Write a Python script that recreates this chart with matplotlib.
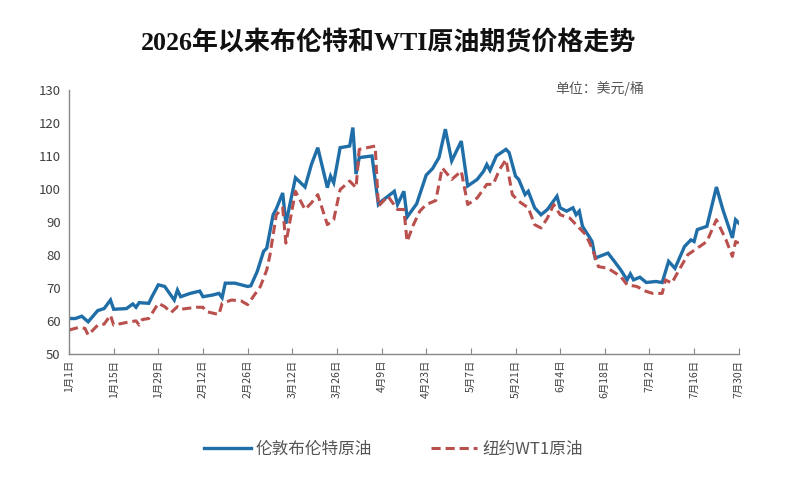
import datetime as dt
import matplotlib
matplotlib.use("Agg")
import matplotlib.pyplot as plt

plt.rcParams['font.family'] = ['Noto Sans CJK SC', 'DejaVu Sans']

# day of year 2026 and price (USD/bbl)
brent_day = [1, 3, 5, 7, 10, 12, 14, 15, 19, 21, 22, 23, 26, 27, 29, 31, 34, 35, 36, 39,
             42, 43, 46, 48, 49, 50, 53, 55, 57, 58, 60, 62, 63, 65, 66, 68, 69, 72, 75, 77,
             79, 82, 83, 84, 86, 89, 90, 91, 92, 96, 98, 99, 101, 103, 104, 106, 107, 110, 113, 115,
             117, 119, 121, 124, 126, 129, 131, 132, 133, 135, 138, 139, 141, 142, 144, 145, 147, 149, 151, 154,
             155, 157, 159, 160, 161, 162, 164, 165, 166, 170, 172, 174, 176, 177, 178, 180, 182, 185, 187, 189,
             191, 194, 196, 197, 198, 201, 204, 206, 209, 210, 211]
brent = [60.8, 60.8, 61.5, 59.8, 63.2, 63.8, 66.4, 63.6, 63.8, 65.2, 64.2, 65.6, 65.4, 67.4, 71.0, 70.5, 66.4, 69.4, 67.4, 68.4,
         69.1, 67.4, 67.9, 68.4, 67.1, 71.5, 71.5, 71.0, 70.5, 70.7, 75.0, 81.1, 82.1, 92.2, 94.0, 98.8, 89.5, 103.4, 100.6, 107.4,
         112.5, 100.4, 103.9, 101.9, 112.5, 113.0, 118.6, 104.5, 109.5, 110.0, 95.3, 96.3, 97.8, 99.3, 95.3, 99.3, 91.5, 95.5, 104.2, 106.2,
         109.5, 118.1, 108.5, 114.5, 100.9, 102.9, 105.4, 107.4, 105.6, 110.0, 112.0, 111.0, 103.9, 102.9, 98.3, 99.3, 94.3, 92.2, 93.8, 97.8,
         94.3, 93.3, 94.3, 92.2, 93.3, 88.7, 85.7, 84.1, 79.1, 80.6, 78.1, 75.5, 72.5, 74.3, 72.5, 73.3, 71.7, 72.0, 71.7, 78.1,
         76.0, 82.6, 84.6, 84.1, 87.7, 88.7, 100.6, 93.8, 85.2, 90.7, 89.7]

wti_day = [1, 4, 6, 7, 10, 12, 14, 15, 19, 22, 23, 24, 26, 29, 31, 33, 35, 36, 41, 43,
           44, 48, 49, 52, 55, 57, 61, 63, 64, 66, 68, 69, 72, 75, 77, 79, 82, 84, 86, 89,
           91, 92, 97, 98, 101, 104, 106, 107, 109, 111, 113, 116, 118, 121, 124, 126, 129, 132, 134, 136,
           138, 140, 142, 145, 147, 149, 151, 153, 155, 158, 160, 163, 165, 167, 170, 174, 176, 179, 182, 184,
           187, 188, 190, 192, 195, 198, 201, 204, 207, 209, 210, 211]
wti = [57.3, 58.1, 57.8, 55.8, 58.8, 59.1, 61.8, 58.8, 59.6, 60.1, 58.8, 60.5, 60.8, 65.4, 64.4, 62.6, 64.4, 63.6, 64.2, 64.2,
       62.9, 62.0, 65.4, 66.4, 66.1, 65.0, 70.5, 75.5, 80.0, 92.2, 94.3, 83.6, 99.3, 93.8, 95.8, 98.3, 89.2, 90.7, 99.8, 102.4,
       100.4, 112.0, 113.0, 94.8, 97.8, 93.8, 93.8, 84.1, 89.2, 93.3, 95.3, 96.5, 106.4, 102.9, 105.4, 95.3, 97.3, 101.4, 101.4, 105.9,
       108.9, 98.3, 96.3, 94.3, 89.2, 88.2, 91.2, 95.3, 92.2, 91.2, 89.2, 86.2, 82.1, 76.5, 76.0, 73.5, 71.0, 70.5, 69.0, 68.4,
       68.4, 72.5, 71.5, 75.0, 80.1, 82.1, 84.1, 90.7, 84.6, 79.6, 84.1, 83.6]

start = dt.date(2026, 1, 1)
to_date = lambda d: start + dt.timedelta(days=d - 1)
tick_dates = [start + dt.timedelta(days=14 * i) for i in range(16)]
tick_labels = [f"{d.month}月{d.day}日" for d in tick_dates]

fig = plt.figure(figsize=(7.87, 4.78), dpi=100)
ax = fig.add_axes([0.0877, 0.259, 0.851, 0.553])

ax.plot([to_date(d) for d in brent_day], brent, color='#1f6ea8', lw=2.4,
        solid_joinstyle='miter', label='伦敦布伦特原油')
ax.plot([to_date(d) for d in wti_day], wti, color='#b9504d', lw=2.2,
        dashes=(3, 1.6), label='纽约WT1原油')

ax.set_ylim(50, 130)
ax.set_yticks(range(50, 131, 10))
ax.set_xlim(to_date(1), to_date(211))
ax.set_xticks(tick_dates)
ax.set_xticklabels(tick_labels, rotation=90, fontsize=7.5, color='#404040')
ax.tick_params(axis='y', length=0, labelsize=9.5, labelcolor='#404040', pad=6)
ax.tick_params(axis='x', direction='in', length=4, color='#888888', pad=4)

for s in ['top', 'right']:
    ax.spines[s].set_visible(False)
for s in ['left', 'bottom']:
    ax.spines[s].set_color('#888888')
    ax.spines[s].set_linewidth(1.0)

fig.text(0.494, 0.912, '2026年以来布伦特和WTI原油期货价格走势',
         family=['Liberation Serif', 'Noto Sans CJK SC'], fontweight='bold',
         fontsize=18.7, ha='center', va='center', color='#111111')
fig.text(0.762, 0.815, '单位：美元/桶', fontsize=10, color='#555555',
         ha='center', va='center')

leg = fig.legend(loc='center', bbox_to_anchor=(0.5, 0.06), ncol=2, frameon=False,
                 fontsize=12, handlelength=2.8, columnspacing=3.5, handletextpad=0.3)
for t in leg.get_texts():
    t.set_color('#555555')

fig.savefig('out.png', dpi=100)
